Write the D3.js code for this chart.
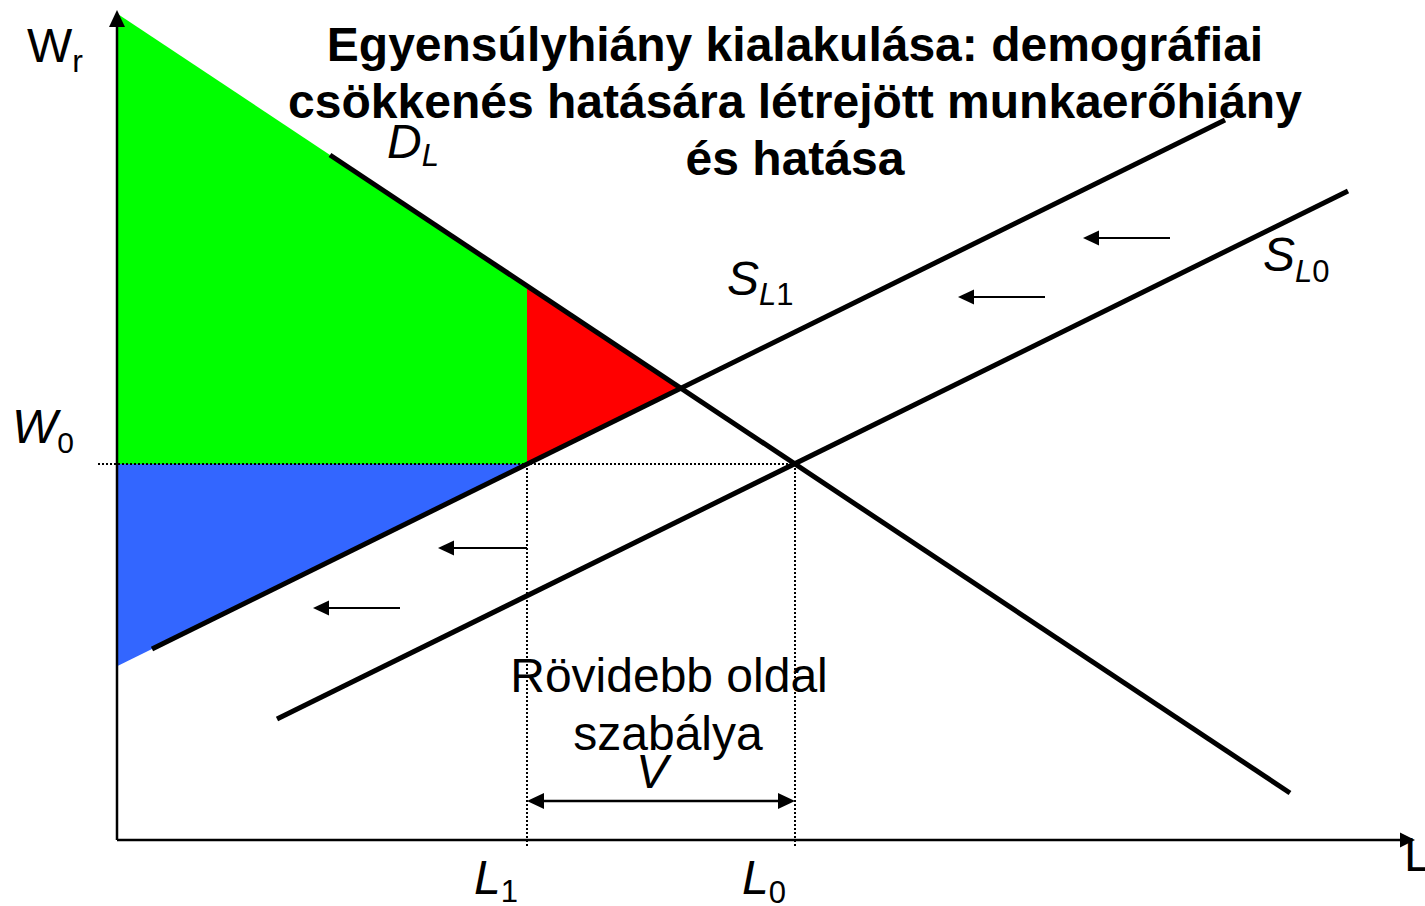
<!DOCTYPE html>
<html>
<head>
<meta charset="utf-8">
<script src="https://cdn.jsdelivr.net/npm/d3@7"></script>
<style>
  html, body { margin: 0; padding: 0; background: #fff; }
  svg { display: block; }
  text { font-family: "Liberation Sans", Arial, sans-serif; fill: #000; }
</style>
</head>
<body>
<svg id="chart" width="1425" height="906"></svg>
<script>
// ---------- data (L = labour quantity, W = real wage, abstract units) ----------
const titleLines = ["Egyensúlyhiány kialakulása: demográfiai",
                    "csökkenés hatására létrejött munkaerőhiány",
                    "és hatása"];
const demandLine = [[213, 685], [1173, 47]];     // D_L
const supplyL1   = [[35, 191], [1108, 720]];     // S_L1 (after shift)
const supplyL0   = [[160, 121], [1231, 649]];    // S_L0 (original)
const W0 = 376;
const L1 = 410;
const L0 = 678;
const shiftArrows = [                          // [tailL, tipL, W]
  [1053, 966, 602],
  [928, 841, 543],
  [410, 321, 292],
  [283, 196, 232]
];
const vArrowW = 39;
const axisMax = { L: 1298, W: 830 };
const lowerBound = -7;     // dotted guides reach slightly below axis
const w0Start = -19;

// ---------- scales ----------
const x = d3.scaleLinear().domain([0, 1300]).range([117, 1417]);
const y = d3.scaleLinear().domain([0, 830]).range([840, 10]);

const svg = d3.select("#chart");

function lineAt(seg, L) {
  const [[x1, y1], [x2, y2]] = seg;
  return y1 + (y2 - y1) * (L - x1) / (x2 - x1);
}
function intersect(a, b) {
  const sa = (a[1][1] - a[0][1]) / (a[1][0] - a[0][0]);
  const sb = (b[1][1] - b[0][1]) / (b[1][0] - b[0][0]);
  const ia = a[0][1] - sa * a[0][0];
  const ib = b[0][1] - sb * b[0][0];
  const L = (ib - ia) / (sa - sb);
  return [L, ia + sa * L];
}
const line = d3.line().x(d => x(d[0])).y(d => y(d[1]));
const E1 = intersect(demandLine, supplyL1);

// ---------- areas ----------
const green = [[0, lineAt(demandLine, 0)], [L1, lineAt(demandLine, L1)], [L1, W0], [0, W0]];
const red   = [[L1, lineAt(demandLine, L1)], E1, [L1, W0]];
const blue  = [[0, W0], [L1, W0], [0, lineAt(supplyL1, 0)]];
svg.append("path").attr("d", line(green) + "Z").attr("fill", "#00ff00");
svg.append("path").attr("d", line(red) + "Z").attr("fill", "#ff0000");
svg.append("path").attr("d", line(blue) + "Z").attr("fill", "#3366ff");

// ---------- dotted guides ----------
const dot = { stroke: "#000", "stroke-width": 2, "stroke-dasharray": "2,2" };
function dotted(pts) {
  const p = svg.append("path").attr("d", line(pts)).attr("fill", "none");
  Object.entries(dot).forEach(([k, v]) => p.attr(k, v));
}
dotted([[w0Start, W0], [L0, W0]]);
dotted([[L1, W0], [L1, lowerBound]]);
dotted([[L0, W0], [L0, lowerBound]]);

// ---------- curves ----------
[demandLine, supplyL1, supplyL0].forEach(seg => {
  svg.append("path").attr("d", line(seg)).attr("fill", "none")
    .attr("stroke", "#000").attr("stroke-width", 5);
});

// ---------- arrowhead helper ----------
function head(tipPx, dirx, diry, len, half) {
  const [tx, ty] = tipPx;
  const bx = tx - dirx * len, by = ty - diry * len;
  const px = -diry, py = dirx;
  svg.append("path")
    .attr("d", `M${tx},${ty}L${bx + px * half},${by + py * half}L${bx - px * half},${by - py * half}Z`)
    .attr("fill", "#000");
}

// ---------- axes ----------
svg.append("path").attr("d", line([[0, 0], [0, axisMax.W - 12]]))
  .attr("stroke", "#000").attr("stroke-width", 2.5).attr("fill", "none");
head([x(0), y(axisMax.W)], 0, -1, 17, 8);
svg.append("path").attr("d", line([[0, 0], [axisMax.L - 12, 0]]))
  .attr("stroke", "#000").attr("stroke-width", 2.5).attr("fill", "none");
head([x(axisMax.L), y(0)], 1, 0, 15, 7.5);

// ---------- shift arrows ----------
shiftArrows.forEach(([a, b, w]) => {
  svg.append("line").attr("x1", x(a)).attr("y1", y(w)).attr("x2", x(b) + 10).attr("y2", y(w))
    .attr("stroke", "#000").attr("stroke-width", 2);
  head([x(b), y(w)], -1, 0, 16, 7.5);
});

// ---------- V double arrow ----------
svg.append("line").attr("x1", x(L1) + 10).attr("y1", y(vArrowW)).attr("x2", x(L0) - 10).attr("y2", y(vArrowW))
  .attr("stroke", "#000").attr("stroke-width", 2.5);
head([x(L1), y(vArrowW)], -1, 0, 17, 8);
head([x(L0), y(vArrowW)], 1, 0, 17, 8);

// ---------- texts ----------
const title = svg.append("text").attr("text-anchor", "middle")
  .attr("font-weight", "bold").attr("font-size", 48);
titleLines.forEach((t, i) => {
  title.append("tspan").attr("x", 795).attr("y", 61 + i * 57).text(t);
});

function subLabel(px, py, main, sub, opts) {
  const t = svg.append("text").attr("x", px).attr("y", py).attr("font-size", 48);
  t.append("tspan").attr("font-style", opts.italicMain ? "italic" : "normal").text(main);
  sub.forEach(([s, italic]) => {
    t.append("tspan").attr("font-size", opts.subSize || 31)
      .attr("font-style", italic ? "italic" : "normal")
      .attr("dy", 0).text(s);
  });
  t.selectAll("tspan").filter((d, i) => i === 1).attr("dy", opts.subDy);
  return t;
}
subLabel(27, 62, "W", [["r", false]], { italicMain: false, subDy: 10, subSize: 32 });
subLabel(12, 443, "W", [["0", false]], { italicMain: true, subDy: 10, subSize: 30 });
subLabel(387, 158, "D", [["L", true]], { italicMain: true, subDy: 8, subSize: 31 });
subLabel(727, 295, "S", [["L", true], ["1", false]], { italicMain: true, subDy: 10, subSize: 31 });
subLabel(1263, 271, "S", [["L", true], ["0", false]], { italicMain: true, subDy: 11, subSize: 31 });
subLabel(474, 894, "L", [["1", false]], { italicMain: true, subDy: 8, subSize: 31 });
subLabel(742, 894, "L", [["0", false]], { italicMain: true, subDy: 9, subSize: 31 });

svg.append("text").attr("x", 1404).attr("y", 871).attr("font-size", 48).text("L");

svg.append("text").attr("x", 669).attr("y", 692).attr("text-anchor", "middle")
  .attr("font-size", 48).text("Rövidebb oldal");
svg.append("text").attr("x", 668).attr("y", 750).attr("text-anchor", "middle")
  .attr("font-size", 48).text("szabálya");
svg.append("text").attr("x", 652).attr("y", 788).attr("text-anchor", "middle")
  .attr("font-size", 48).attr("font-style", "italic").text("V");
</script>
</body>
</html>
